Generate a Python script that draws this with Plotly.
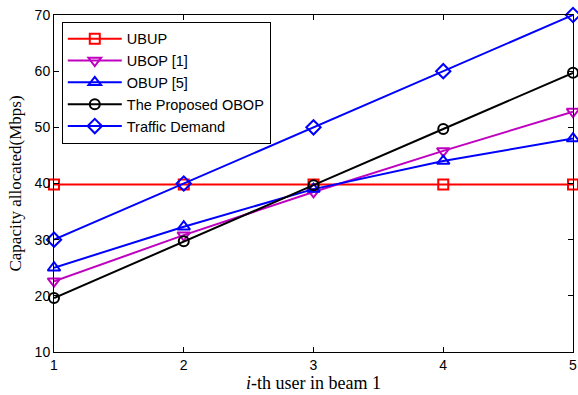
import plotly.graph_objects as go

x = [1, 2, 3, 4, 5]
ubup = [39.8, 39.8, 39.8, 39.8, 39.8]
ubop = [22.6, 30.8, 38.5, 45.8, 52.8]
obup = [25.0, 32.3, 39.0, 44.0, 48.0]
proposed = [19.6, 29.7, 39.7, 49.7, 59.7]
demand = [30, 40, 50, 60, 70]

names = ["UBUP", "UBOP [1]", "OBUP [5]", "The Proposed OBOP", "Traffic Demand"]
series = [ubup, ubop, obup, proposed, demand]
colors = ["#ff0000", "#bf00bf", "#0000ff", "#000000", "#0000ff"]
symbols = ["square-open", "triangle-down-open", "triangle-up-open", "circle-open", "diamond-open"]
sizes = [10, 11, 11, 10, 11]

fig = go.Figure()
for n, s, c, m, sz in zip(names, series, colors, symbols, sizes):
    fig.add_trace(go.Scatter(x=x, y=s, name=n, mode="lines+markers",
                             line=dict(color=c, width=2),
                             marker=dict(symbol=m, size=sz, color=c, line=dict(width=2, color=c)),
                             cliponaxis=False))

fig.update_layout(
    width=578, height=395,
    margin=dict(l=54, r=5, t=15, b=43, autoexpand=False),
    plot_bgcolor="white", paper_bgcolor="white",
    font=dict(family="Liberation Sans, Arial", size=14, color="black"),
    showlegend=True,
    legend=dict(x=0.015, y=0.98, xanchor="left", yanchor="top",
                bordercolor="black", borderwidth=1, bgcolor="white",
                font=dict(size=14.5), tracegroupgap=0, itemwidth=54),
)
fig.update_xaxes(range=[1, 5], tickvals=[1, 2, 3, 4, 5], showline=True, linecolor="black",
                 linewidth=1, mirror="ticks", ticks="inside", ticklen=5, tickcolor="black",
                 showgrid=False, zeroline=False, automargin=False,
                 title=dict(text="<i>i</i>-th user in beam 1", font=dict(family="Liberation Serif, Times New Roman", size=18), standoff=2))
fig.update_yaxes(range=[10, 70], tickvals=[10, 20, 30, 40, 50, 60, 70], showline=True, linecolor="black",
                 linewidth=1, mirror="ticks", ticks="inside", ticklen=5, tickcolor="black",
                 showgrid=False, zeroline=False, automargin=False,
                 title=dict(text="Capacity allocated(Mbps)", font=dict(family="Liberation Serif, Times New Roman", size=17), standoff=8))

fig.write_html("out.html", config={"displayModeBar": False},
               post_script="document.body.style.margin='0';")
